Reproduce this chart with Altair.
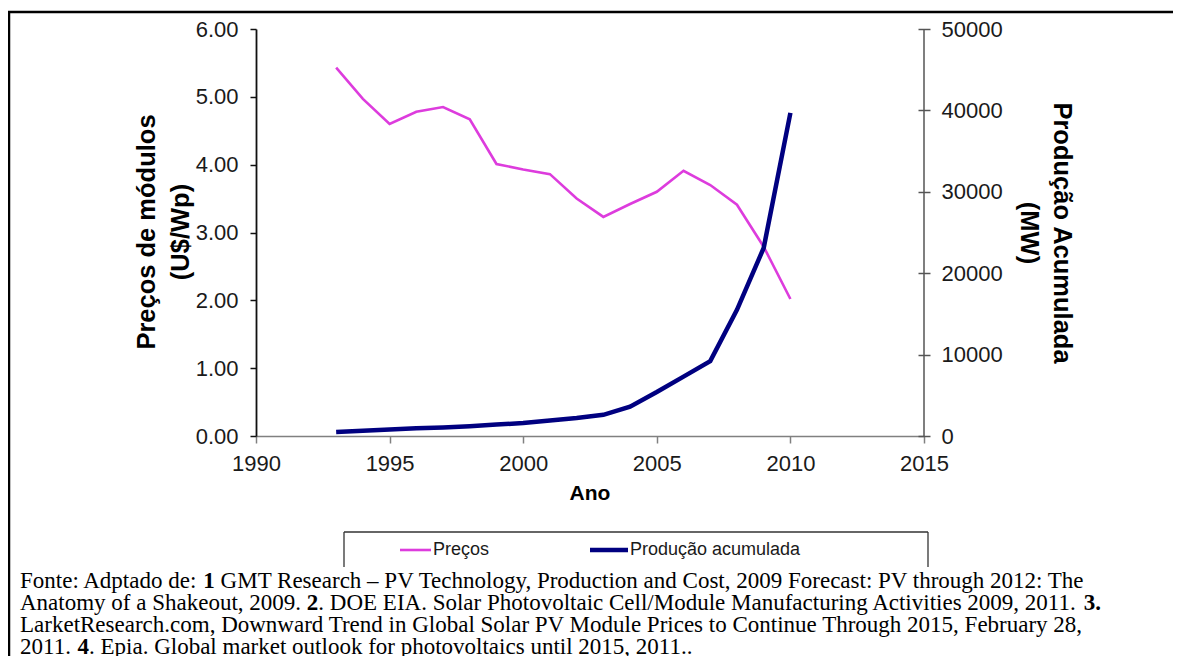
import altair as alt
import pandas as pd

# ---------------- data ----------------
anos = list(range(1993, 2011))
precos = [5.43, 4.97, 4.60, 4.78, 4.85, 4.67, 4.01, 3.93, 3.86, 3.50,
          3.23, 3.42, 3.60, 3.91, 3.70, 3.41, 2.79, 2.02]
producao = [500, 650, 800, 950, 1050, 1200, 1400, 1600, 1900, 2200,
            2600, 3600, 5400, 7300, 9200, 15500, 23100, 39700]

anos_ticks = [1990, 1995, 2000, 2005, 2010, 2015]
precos_ticks = [0, 1, 2, 3, 4, 5, 6]
producao_ticks = [0, 10000, 20000, 30000, 40000, 50000]

titulo_esq = ["Preços de módulos", "(U$/Wp)"]
titulo_dir = ["Produção Acumulada", "(MW)"]
titulo_x = "Ano"
legenda = ["Preços", "Produção acumulada"]

fonte_linhas = [
    [("Fonte: Adptado de: ", False), ("1", True),
     (" GMT Research – PV Technology, Production and Cost, 2009 Forecast: PV through 2012: The", False)],
    [("Anatomy of a Shakeout, 2009. ", False), ("2", True),
     (". DOE EIA. Solar Photovoltaic Cell/Module Manufacturing Activities 2009, 2011. ", False), ("3.", True)],
    [("LarketResearch.com, Downward Trend in Global Solar PV Module Prices to Continue Through 2015, February 28,", False)],
    [("2011. ", False), ("4", True), (". Epia. Global market outlook for photovoltaics until 2015, 2011..", False)],
]

df = pd.DataFrame({"ano": anos, "preco": precos, "producao": producao})
one = pd.DataFrame({"k": [0]})

# ---------------- layout ----------------
W, H = 668, 407
X0, Y0 = 256, 29  # page position of plot-area origin


def px(x):
    return x - X0


def py(y):
    return y - Y0


PINK = "#dd3cdd"
NAVY = "#000080"
SANS = "Liberation Sans"
SERIF = "Liberation Serif"

# Times-Roman advance widths (per 1000 em) for positioning mixed-weight text
TIMES = {' ': 250, ',': 250, '.': 250, ':': 278, '/': 278, '–': 500, '-': 333,
         'A': 722, 'B': 667, 'C': 667, 'D': 722, 'E': 611, 'F': 556, 'G': 722, 'H': 722,
         'I': 333, 'J': 389, 'K': 722, 'L': 611, 'M': 889, 'N': 722, 'O': 722, 'P': 556,
         'Q': 722, 'R': 667, 'S': 556, 'T': 611, 'U': 722, 'V': 722, 'W': 944, 'X': 722,
         'Y': 722, 'Z': 611,
         'a': 444, 'b': 500, 'c': 444, 'd': 500, 'e': 444, 'f': 333, 'g': 500, 'h': 500,
         'i': 278, 'j': 278, 'k': 500, 'l': 278, 'm': 778, 'n': 500, 'o': 500, 'p': 500,
         'q': 500, 'r': 333, 's': 389, 't': 278, 'u': 500, 'v': 500, 'w': 722, 'x': 500,
         'y': 500, 'z': 444}
for d in "0123456789":
    TIMES[d] = 500


def tw(s, size):
    return sum(TIMES.get(c, 500) for c in s) * size / 1000.0


x_axis = alt.Axis(values=anos_ticks, format="d", title=None, grid=False,
                  domainColor="#808080", domainWidth=1.5, tickColor="#808080",
                  tickWidth=1.5, tickSize=7, labelFont=SANS, labelFontSize=22,
                  labelColor="#1a1a1a", labelPadding=10, labelFlush=False)
x_enc = alt.X("ano:Q", scale=alt.Scale(domain=[1990, 2015], nice=False, zero=False),
              axis=x_axis)

pink = alt.Chart(df).mark_line(color=PINK, strokeWidth=2.6).encode(
    x=x_enc,
    y=alt.Y("preco:Q", scale=alt.Scale(domain=[0, 6], nice=False),
            axis=alt.Axis(orient="left", values=precos_ticks, format=".2f", title=None,
                          grid=False, domainColor="#111111", domainWidth=1.8,
                          tickColor="#111111", tickWidth=1.5, tickSize=6,
                          labelFont=SANS, labelFontSize=22, labelColor="#1a1a1a",
                          labelPadding=12, labelFlush=False)),
)

blue = alt.Chart(df).mark_line(color=NAVY, strokeWidth=4.5).encode(
    x=x_enc,
    y=alt.Y("producao:Q", scale=alt.Scale(domain=[0, 50000], nice=False),
            axis=alt.Axis(orient="right", values=producao_ticks, format="d", title=None,
                          grid=False, domain=False, offset=-6,
                          tickColor="#555555", tickWidth=1.5, tickSize=12,
                          labelFont=SANS, labelFontSize=22, labelColor="#1a1a1a",
                          labelPadding=11, labelFlush=False)),
)

lines = alt.layer(pink, blue).resolve_scale(y="independent")

layers = []

# right axis domain line
layers.append(alt.Chart(one).mark_rule(color="#555555", strokeWidth=1.5).encode(
    x=alt.value(W), y=alt.value(0), y2=alt.value(H)))

# outer frame
layers.append(alt.Chart(one).mark_rect(fillOpacity=0, stroke="black", strokeWidth=2.5).encode(
    x=alt.value(px(9)), x2=alt.value(px(1200)), y=alt.value(py(12)), y2=alt.value(py(700))))

# axis titles
TFS = 25.5
layers.append(alt.Chart(one).mark_text(text=titulo_esq[0], angle=270, align="center",
                                       baseline="alphabetic", font=SANS, fontSize=TFS,
                                       fontWeight="bold", color="black").encode(
    x=alt.value(px(155)), y=alt.value(py(232))))
layers.append(alt.Chart(one).mark_text(text=titulo_esq[1], angle=270, align="center",
                                       baseline="alphabetic", font=SANS, fontSize=TFS,
                                       fontWeight="bold", color="black").encode(
    x=alt.value(px(189)), y=alt.value(py(232))))
layers.append(alt.Chart(one).mark_text(text=titulo_dir[0], angle=90, align="center",
                                       baseline="alphabetic", font=SANS, fontSize=TFS,
                                       fontWeight="bold", color="black").encode(
    x=alt.value(px(1054)), y=alt.value(py(233))))
layers.append(alt.Chart(one).mark_text(text=titulo_dir[1], angle=90, align="center",
                                       baseline="alphabetic", font=SANS, fontSize=TFS,
                                       fontWeight="bold", color="black").encode(
    x=alt.value(px(1021)), y=alt.value(py(233))))
layers.append(alt.Chart(one).mark_text(text=titulo_x, align="center", baseline="alphabetic",
                                       font=SANS, fontSize=21, fontWeight="bold",
                                       color="black").encode(
    x=alt.value(px(590)), y=alt.value(py(500))))

# legend box (top, left, right sides)
LB_L, LB_R, LB_T, LB_B = 344, 928, 532, 567
layers.append(alt.Chart(one).mark_rule(color="#333333", strokeWidth=1.3).encode(
    x=alt.value(px(LB_L)), x2=alt.value(px(LB_R)), y=alt.value(py(LB_T))))
layers.append(alt.Chart(one).mark_rule(color="#333333", strokeWidth=1.3).encode(
    x=alt.value(px(LB_L)), y=alt.value(py(LB_T)), y2=alt.value(py(LB_B))))
layers.append(alt.Chart(one).mark_rule(color="#333333", strokeWidth=1.3).encode(
    x=alt.value(px(LB_R)), y=alt.value(py(LB_T)), y2=alt.value(py(LB_B))))

LEG_Y = 550
layers.append(alt.Chart(one).mark_rule(color=PINK, strokeWidth=2.6).encode(
    x=alt.value(px(400)), x2=alt.value(px(431)), y=alt.value(py(LEG_Y))))
layers.append(alt.Chart(one).mark_text(text=legenda[0], align="left", baseline="middle",
                                       font=SANS, fontSize=18, color="#1a1a1a").encode(
    x=alt.value(px(433)), y=alt.value(py(LEG_Y))))
layers.append(alt.Chart(one).mark_rule(color=NAVY, strokeWidth=4.5).encode(
    x=alt.value(px(590)), x2=alt.value(px(628)), y=alt.value(py(LEG_Y))))
layers.append(alt.Chart(one).mark_text(text=legenda[1], align="left", baseline="middle",
                                       font=SANS, fontSize=18, color="#1a1a1a").encode(
    x=alt.value(px(630)), y=alt.value(py(LEG_Y))))

# footer (source) text with bold reference numbers
FFS = 23
bases = [588, 610, 632, 654]
for linha, base in zip(fonte_linhas, bases):
    cur = 20.0
    for seg, bold in linha:
        lead = len(seg) - len(seg.lstrip(" "))
        cur += tw(" " * lead, FFS)
        txt = seg.strip(" ")
        if txt:
            layers.append(alt.Chart(one).mark_text(
                text=txt, align="left", baseline="alphabetic", font=SERIF,
                fontSize=FFS, fontWeight="bold" if bold else "normal",
                color="black").encode(x=alt.value(px(cur)), y=alt.value(py(base))))
        cur += tw(txt, FFS)
        trail = len(seg) - len(seg.rstrip(" "))
        cur += tw(" " * trail, FFS)

chart = alt.layer(lines, *layers).properties(
    width=W, height=H,
    autosize=alt.AutoSizeParams(type="none"),
    padding={"left": X0 - 8, "top": Y0 - 8, "right": 1165 - (X0 - 8) - W,
             "bottom": 648 - (Y0 - 8) - H},
    background="white",
).configure_view(stroke=None)

chart.save("out.html", embed_options={"renderer": "svg", "actions": False})
